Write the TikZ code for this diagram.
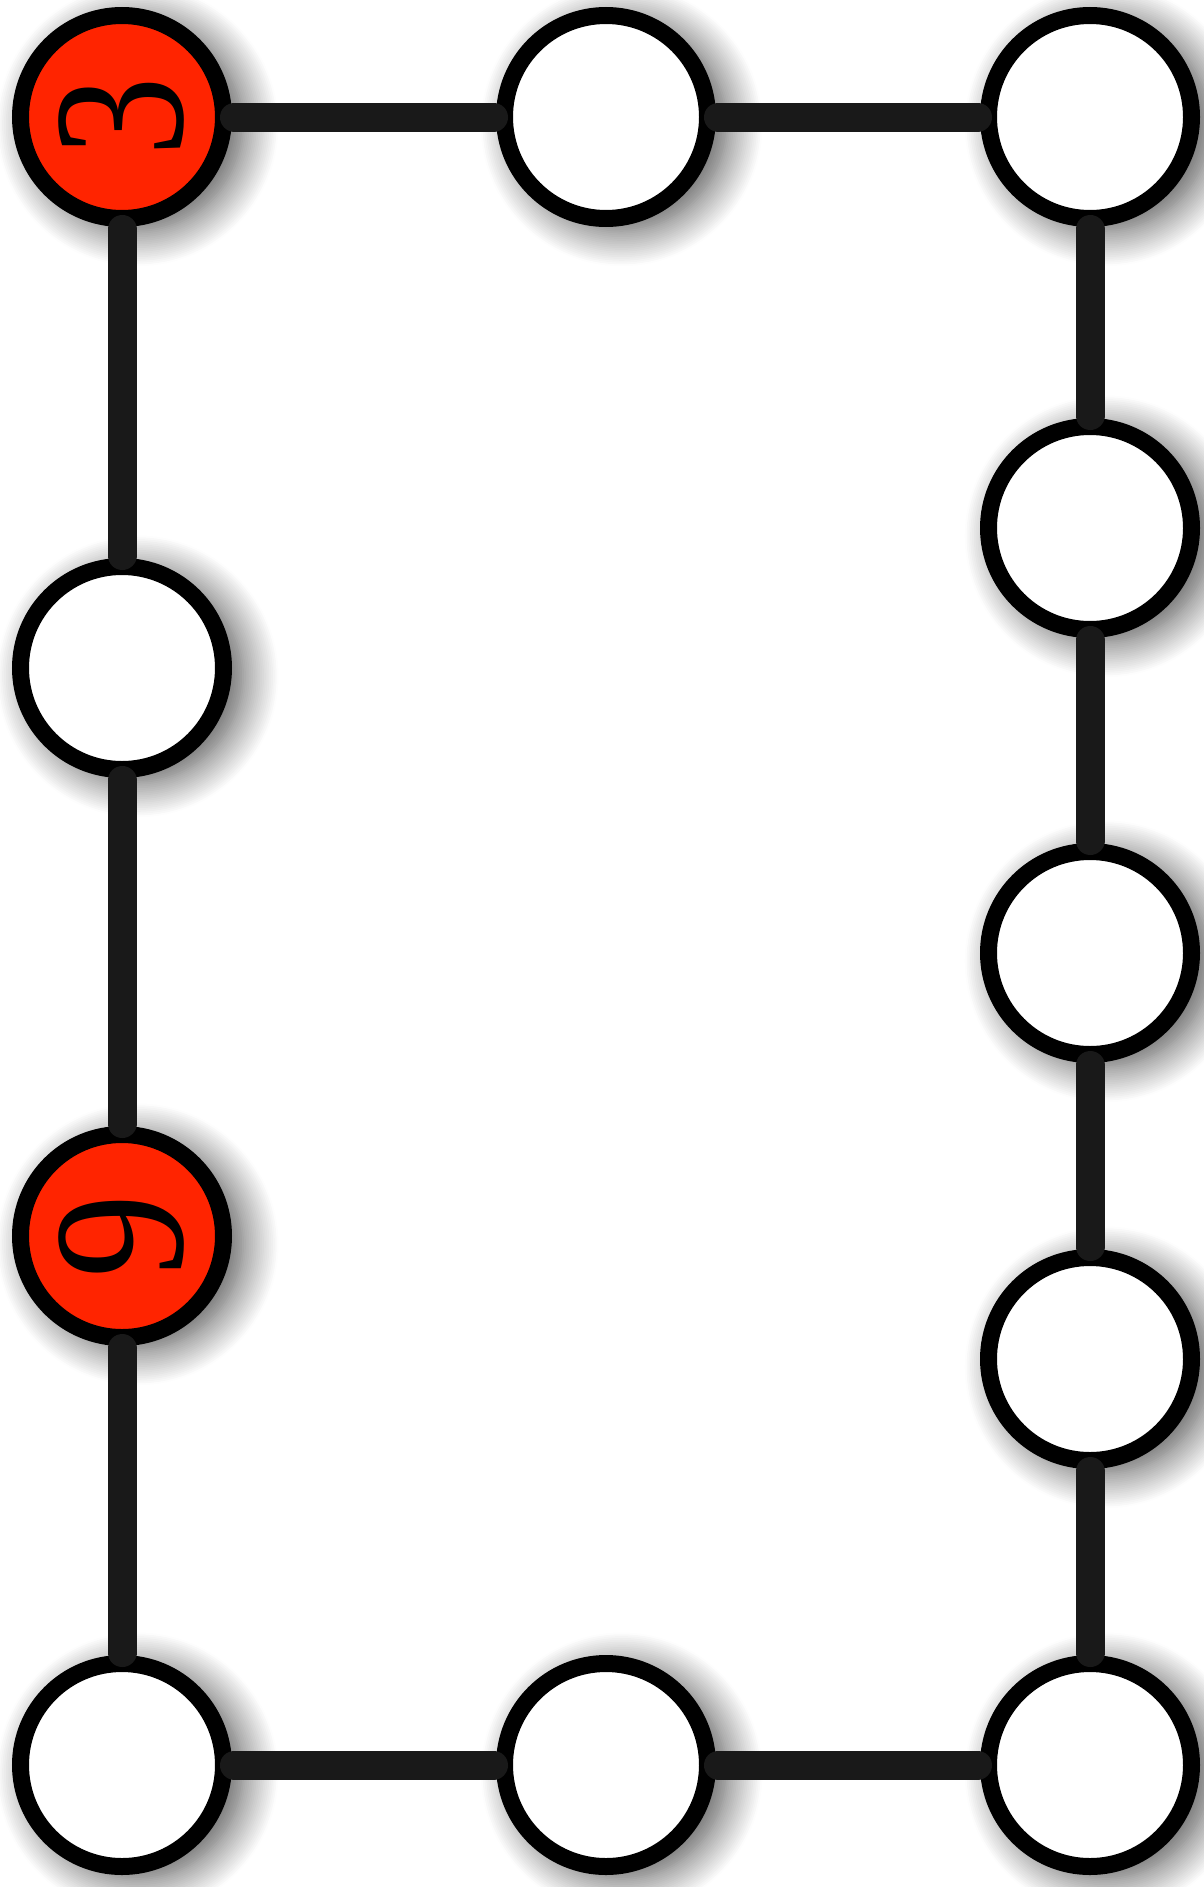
\documentclass[tikz,border=0pt]{standalone}
\usepackage{graphicx}
\usepackage{fontspec}
\setmainfont{Liberation Serif}
\usetikzlibrary{shadows.blur}
\definecolor{nodered}{RGB}{255,36,0}
\definecolor{linkgray}{RGB}{25,25,25}
\begin{document}
\begin{tikzpicture}[x=1pt, y=1pt,
	vertex/.style={circle, draw=black, line width=17pt, fill=white, minimum size=203pt, inner sep=0pt, outer sep=11pt,
		blur shadow={shadow xshift=15pt, shadow yshift=-8pt, shadow scale=1.04, shadow blur radius=34pt, shadow blur steps=20, shadow opacity=70}},
	marked/.style={vertex, fill=nodered},
	link/.style={linkgray, line width=29pt, line cap=round},
	every node/.style={font=\fontsize{187}{195}\selectfont}]
	\useasboundingbox (0,0) rectangle (1203,-1887);
	
	% 1. 顶点
	\node[marked] (v3) at (122,-117) {\rotatebox{90}{\scalebox{0.85}[1]{3}}};
	\node[vertex] (top) at (606,-117) {};
	\node[vertex] (tr) at (1090,-117) {};
	\node[vertex] (r1) at (1090,-528) {};
	\node[vertex] (r2) at (1090,-953) {};
	\node[vertex] (r3) at (1090,-1359) {};
	\node[vertex] (br) at (1090,-1765) {};
	\node[vertex] (bot) at (606,-1765) {};
	\node[vertex] (bl) at (122,-1765) {};
	\node[marked] (v9) at (122,-1236) {\rotatebox{90}{\scalebox{0.9}[1]{9}}};
	\node[vertex] (left) at (122,-668) {};
	
	% 2. 边
	\draw[link] (v3) -- (top);
	\draw[link] (top) -- (tr);
	\draw[link] (tr) -- (r1);
	\draw[link] (r1) -- (r2);
	\draw[link] (r2) -- (r3);
	\draw[link] (r3) -- (br);
	\draw[link] (br) -- (bot);
	\draw[link] (bot) -- (bl);
	\draw[link] (bl) -- (v9);
	\draw[link] (v9) -- (left);
	\draw[link] (left) -- (v3);
\end{tikzpicture}
\end{document}
